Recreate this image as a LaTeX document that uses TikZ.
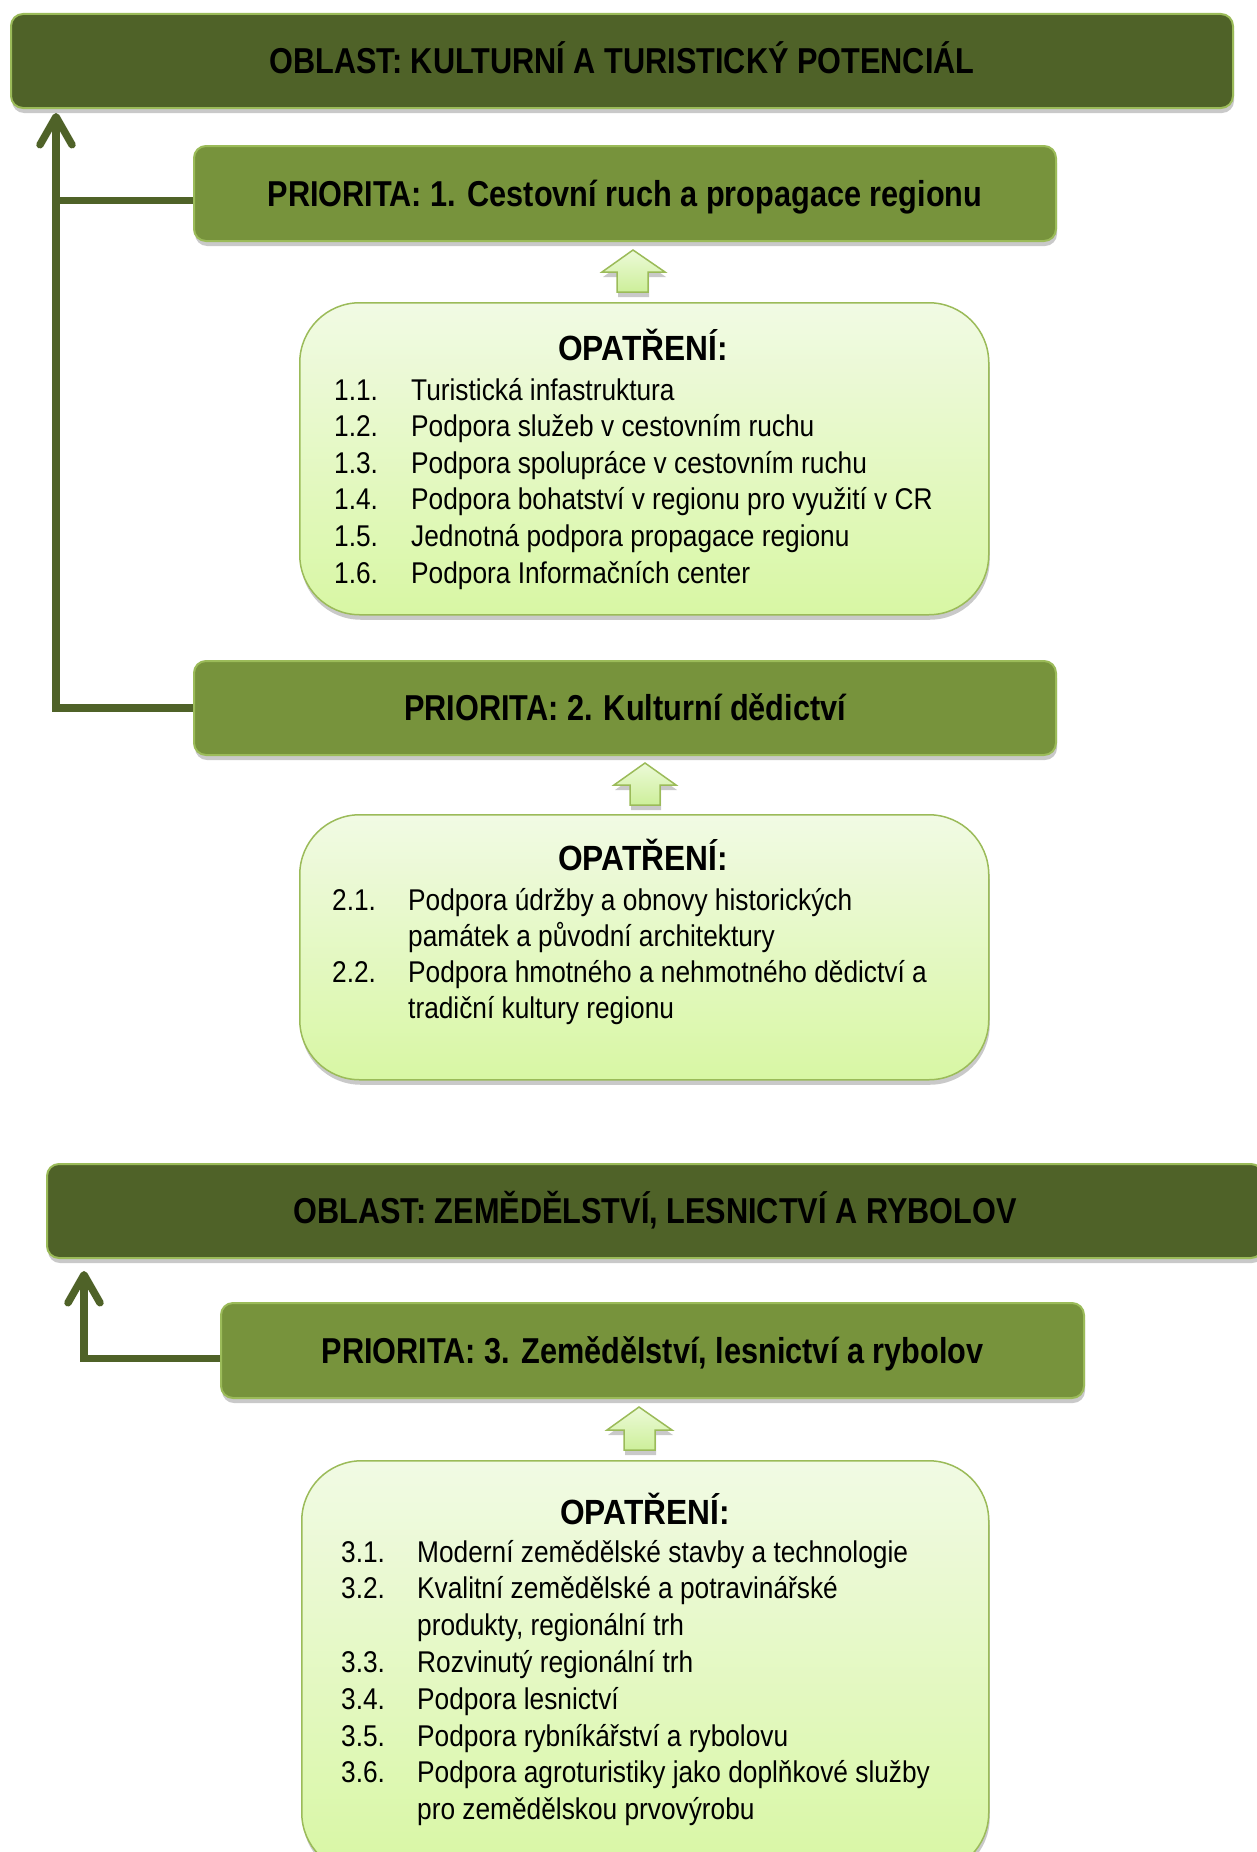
\documentclass[tikz,border=0pt]{standalone}
\usepackage{fontspec}
\setmainfont{Liberation Sans}[FakeStretch=0.876]
\newfontfamily\titlefont{Liberation Sans}[FakeStretch=0.852]
\newfontfamily\headfont{Liberation Sans}[FakeStretch=0.905]
\newfontfamily\listfont{Liberation Sans}[FakeStretch=0.876]
\usetikzlibrary{arrows.meta,shadows,calc}
\definecolor{darkolive}{HTML}{4F6228}
\definecolor{midolive}{HTML}{77933C}
\definecolor{edgegreen}{HTML}{9BBB59}
\definecolor{paletop}{HTML}{F1FAE4}
\definecolor{palebot}{HTML}{D8F7A4}
\definecolor{arrtop}{HTML}{ECFAD8}
\definecolor{arrbot}{HTML}{CDEF9A}
\begin{document}
\begin{tikzpicture}[x=1pt,y=-1pt,
  shadowed/.style={drop shadow={shadow xshift=1pt,shadow yshift=-5pt,opacity=.3,fill=black!70}},
  areabar/.style={draw=edgegreen,line width=2pt,fill=darkolive,rounded corners=12pt,shadowed,
    anchor=north west,inner sep=0pt,text height=25.8pt,text depth=0pt,font=\fontsize{36}{42}\titlefont\bfseries},
  priobox/.style={draw=edgegreen,line width=2pt,fill=midolive,rounded corners=12pt,shadowed,
    anchor=north west,inner sep=0pt,text height=25.8pt,text depth=0pt,font=\fontsize{36}{42}\titlefont\bfseries},
  measbox/.style={draw=edgegreen,line width=1.5pt,top color=paletop,bottom color=palebot,rounded corners=60pt,shadowed,anchor=north west,inner sep=0pt},
  blockarrow/.style={draw=edgegreen,line width=1.5pt,top color=arrtop,bottom color=arrbot,shadowed},
  headtext/.style={anchor=base,inner sep=0pt,font=\fontsize{35}{40}\headfont\bfseries},
  listtext/.style={anchor=base west,inner sep=0pt,font=\fontsize{30}{36.6}\listfont},
  conn/.style={draw=darkolive,line width=7.5pt},
  conntip/.style={conn,-{Straight Barb[length=28pt,width=32pt,round]}}
]
\useasboundingbox (0,0) rectangle (1257,1852);

% ---- area 1
\node[areabar,minimum width=1222pt,minimum height=94pt] (bar1) at (10,13) {OBLAST: KULTURNÍ A TURISTICKÝ POTENCIÁL};
\node[priobox,minimum width=862pt,minimum height=95pt] (p1) at (193,145) {PRIORITA: 1. Cestovní ruch a propagace regionu};
\node[measbox,minimum width=689pt,minimum height=312pt] (m1) at (299,302) {};
\node[headtext] (h1) at (643,360) {OPATŘENÍ:};
\node[listtext] (l1) at (334,400) {\begin{tabular}[t]{@{}p{77pt}@{}l@{}}
1.1. & Turistická infastruktura\\
1.2. & Podpora služeb v cestovním ruchu\\
1.3. & Podpora spolupráce v cestovním ruchu\\
1.4. & Podpora bohatství v regionu pro využití v CR\\
1.5. & Jednotná podpora propagace regionu\\
1.6. & Podpora Informačních center
\end{tabular}};

\node[priobox,minimum width=862pt,minimum height=94pt] (p2) at (193,660) {PRIORITA: 2. Kulturní dědictví};
\node[measbox,minimum width=689pt,minimum height=265pt] (m2) at (299,814) {};
\node[headtext] (h2) at (643,870) {OPATŘENÍ:};
\node[listtext,font=\fontsize{30}{36}\listfont] (l2) at (332,910) {\begin{tabular}[t]{@{}p{76pt}@{}l@{}}
2.1. & Podpora údržby a obnovy historických\\
 & památek a původní architektury\\
2.2. & Podpora hmotného a nehmotného dědictví a\\
 & tradiční kultury regionu
\end{tabular}};

% block arrows area 1
\path[blockarrow] (633,250) -- (665,272) -- (648,272) -- (648,292) -- (617,292) -- (617,272) -- (602,272) -- cycle;
\path[blockarrow] (645,763) -- (676,785) -- (660,785) -- (660,805) -- (630,805) -- (630,785) -- (614,785) -- cycle;

% connectors area 1
\coordinate (tip1) at (56,113);
\draw[conn] ([yshift=-7pt]p1.west) -- ([yshift=-7pt]p1.west -| tip1);
\draw[conntip] (p2.west) -| (tip1);

% ---- area 2
\node[areabar,minimum width=1216pt,minimum height=94pt] (bar2) at (46,1163) {OBLAST: ZEMĚDĚLSTVÍ, LESNICTVÍ A RYBOLOV};
\node[priobox,minimum width=863pt,minimum height=95pt] (p3) at (220,1302) {PRIORITA: 3. Zemědělství, lesnictví a rybolov};
\node[measbox,minimum width=687pt,minimum height=412pt] (m3) at (301,1460) {};
\node[headtext] (h3) at (645,1524) {OPATŘENÍ:};
\node[listtext,font=\fontsize{30}{36.8}\listfont] (l3) at (341,1562) {\begin{tabular}[t]{@{}p{76pt}@{}l@{}}
3.1. & Moderní zemědělské stavby a technologie\\
3.2. & Kvalitní zemědělské a potravinářské\\
 & produkty, regionální trh\\
3.3. & Rozvinutý regionální trh\\
3.4. & Podpora lesnictví\\
3.5. & Podpora rybníkářství a rybolovu\\
3.6. & Podpora agroturistiky jako doplňkové služby\\
 & pro zemědělskou prvovýrobu
\end{tabular}};

\path[blockarrow] (639,1407) -- (672,1430) -- (655,1430) -- (655,1450) -- (624,1450) -- (624,1430) -- (607,1430) -- cycle;

\coordinate (tip2) at (84,1271);
\draw[conntip] ([yshift=-8pt]p3.west) -| (tip2);
\end{tikzpicture}
\end{document}
